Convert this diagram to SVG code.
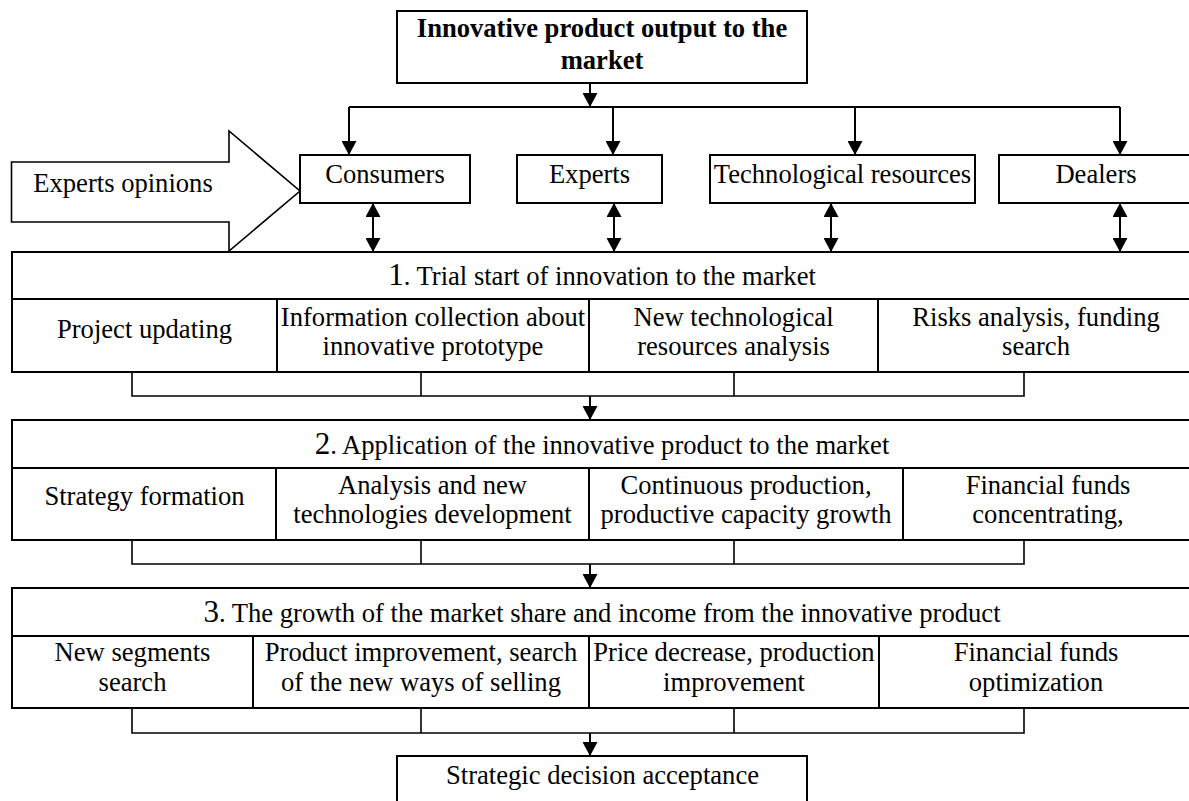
<svg xmlns="http://www.w3.org/2000/svg" width="1189" height="801" viewBox="0 0 1189 801">
<style>
text{font-family:"Liberation Serif","Times New Roman",serif;font-size:26.6px;fill:#000;text-anchor:middle}
.b{font-weight:bold}
.num{font-size:31px}
.box{fill:#fff;stroke:#000;stroke-width:2}
.div{fill:none;stroke:#000;stroke-width:2}
.con{fill:none;stroke:#000;stroke-width:2}
.stub{fill:none;stroke:#000;stroke-width:1.6}
.arr{marker-end:url(#ah)}
.dbl{marker-end:url(#ah);marker-start:url(#ah)}
</style>
<defs>
<marker id="ah" markerUnits="userSpaceOnUse" markerWidth="15" markerHeight="15" refX="14" refY="7.5" orient="auto-start-reverse" viewBox="0 0 15 15">
<path d="M0,0 L14,7.5 L0,15 z" fill="#000"/>
</marker>
</defs>

<g id="top">
<rect class="box" x="397" y="11" width="410" height="72"/>
<text class="b" x="602" y="37">Innovative product output to the</text>
<text class="b" x="602" y="69">market</text>
</g>

<g id="experts-opinions">
<polygon points="11.5,162 229,162 229,131 300,191 229,251 229,222 11.5,222" fill="#fff" stroke="#000" stroke-width="1.6" stroke-linejoin="miter"/>
<text x="123" y="192">Experts opinions</text>
</g>

<g id="consumers">
<rect class="box" x="300" y="155" width="170" height="48"/>
<text x="385" y="183">Consumers</text>
</g>
<g id="experts">
<rect class="box" x="517" y="155" width="145" height="48"/>
<text x="589.5" y="183">Experts</text>
</g>
<g id="tech">
<rect class="box" x="710" y="155" width="265" height="48"/>
<text x="842.5" y="183">Technological resources</text>
</g>
<g id="dealers">
<rect class="box" x="999" y="155" width="195" height="48"/>
<text x="1096" y="183">Dealers</text>
</g>

<g id="stage1">
<rect class="box" x="12" y="252" width="1182" height="120"/>
<line class="div" x1="12" y1="299" x2="1194" y2="299"/>
<line class="div" x1="277" y1="299" x2="277" y2="372"/>
<line class="div" x1="589" y1="299" x2="589" y2="372"/>
<line class="div" x1="878" y1="299" x2="878" y2="372"/>
<text x="602" y="285"><tspan class="num">1</tspan>. Trial start of innovation to the market</text>
<text x="144.5" y="338">Project updating</text>
<text x="433" y="326">Information collection about</text>
<text x="433" y="355">innovative prototype</text>
<text x="733.5" y="326">New technological</text>
<text x="733.5" y="355">resources analysis</text>
<text x="1036" y="326">Risks analysis, funding</text>
<text x="1036" y="355">search</text>
</g>

<g id="stage2">
<rect class="box" x="12" y="420" width="1182" height="120"/>
<line class="div" x1="12" y1="468" x2="1194" y2="468"/>
<line class="div" x1="276" y1="468" x2="276" y2="540"/>
<line class="div" x1="589" y1="468" x2="589" y2="540"/>
<line class="div" x1="903" y1="468" x2="903" y2="540"/>
<text x="602" y="454"><tspan class="num">2</tspan>. Application of the innovative product to the market</text>
<text x="144.5" y="505">Strategy formation</text>
<text x="432.5" y="494">Analysis and new</text>
<text x="432.5" y="523">technologies development</text>
<text x="746" y="494">Continuous production,</text>
<text x="746" y="523">productive capacity growth</text>
<text x="1048" y="494">Financial funds</text>
<text x="1048" y="523">concentrating,</text>
</g>

<g id="stage3">
<rect class="box" x="12" y="588" width="1182" height="120"/>
<line class="div" x1="12" y1="636" x2="1194" y2="636"/>
<line class="div" x1="253" y1="636" x2="253" y2="708"/>
<line class="div" x1="589" y1="636" x2="589" y2="708"/>
<line class="div" x1="879" y1="636" x2="879" y2="708"/>
<text x="602" y="622"><tspan class="num">3</tspan>. The growth of the market share and income from the innovative product</text>
<text x="132.5" y="661">New segments</text>
<text x="132.5" y="691">search</text>
<text x="421" y="661">Product improvement, search</text>
<text x="421" y="691">of the new ways of selling</text>
<text x="734" y="661">Price decrease, production</text>
<text x="734" y="691">improvement</text>
<text x="1036" y="661">Financial funds</text>
<text x="1036" y="691">optimization</text>
</g>

<g id="decision">
<rect class="box" x="397" y="756" width="410" height="52"/>
<text x="602.5" y="784">Strategic decision acceptance</text>
</g>

<g id="connectors">
<line class="con arr" x1="590" y1="83" x2="590" y2="107"/>
<polyline class="con" points="349,107 1120,107"/>
<line class="con arr" x1="349" y1="107" x2="349" y2="155"/>
<line class="con arr" x1="613" y1="107" x2="613" y2="155"/>
<line class="con arr" x1="855" y1="107" x2="855" y2="155"/>
<line class="con arr" x1="1120" y1="107" x2="1120" y2="155"/>
<line class="con dbl" x1="373" y1="203" x2="373" y2="252"/>
<line class="con dbl" x1="614" y1="203" x2="614" y2="252"/>
<line class="con dbl" x1="831" y1="203" x2="831" y2="252"/>
<line class="con dbl" x1="1120" y1="203" x2="1120" y2="252"/>

<path class="stub" d="M132,372 V396 H1024 V372 M421,372 V396 M734,372 V396"/>
<line class="con arr" x1="590" y1="396" x2="590" y2="420"/>
<path class="stub" d="M132,540 V564 H1024 V540 M421,540 V564 M734,540 V564"/>
<line class="con arr" x1="590" y1="564" x2="590" y2="588"/>
<path class="stub" d="M132,708 V733 H1024 V708 M421,708 V733 M734,708 V733"/>
<line class="con arr" x1="590" y1="733" x2="590" y2="756"/>
</g>
</svg>
